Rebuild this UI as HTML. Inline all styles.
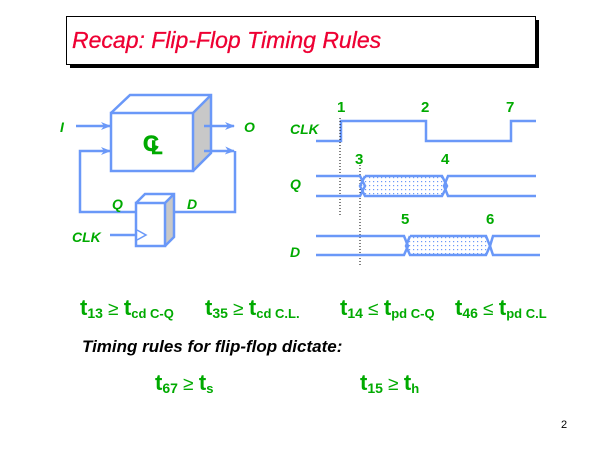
<!DOCTYPE html>
<html><head><style>
html,body{margin:0;padding:0;background:#fff;}
svg{display:block;}
.g{fill:#00aa00;font-family:"Liberation Sans",sans-serif;font-weight:bold;}
.b{stroke:#6a98f8;stroke-width:2.5;fill:none;}
</style></head><body>
<svg width="600" height="450" viewBox="0 0 600 450" xmlns="http://www.w3.org/2000/svg">
<defs>
<pattern id="dots" width="4" height="4" patternUnits="userSpaceOnUse">
<rect x="1" y="1" width="1.2" height="1.2" fill="#6a98f8"/>
</pattern>
<marker id="ar" markerWidth="10" markerHeight="8" refX="9" refY="4" orient="auto" markerUnits="userSpaceOnUse">
<path d="M0,0 L10,4 L0,8 L3,4 Z" fill="#6a98f8"/>
</marker>
</defs>
<!-- title -->
<rect x="70" y="20" width="469" height="48" fill="#000"/>
<rect x="66.5" y="16.5" width="469" height="48" fill="#fff" stroke="#000" stroke-width="1"/>
<text x="72" y="48" font-family="Liberation Sans,sans-serif" font-style="italic" font-size="23" fill="#ee0033" stroke="#ee0033" stroke-width="0.3">Recap: Flip-Flop Timing Rules</text>

<!-- CL box -->
<polygon points="193,113 211,95 211,153 193,171" fill="#c8c8c8"/>
<polyline class="b" points="111,113 130,95 211,95 211,153 193,171"/>
<line class="b" x1="193" y1="113" x2="211" y2="95"/>
<rect class="b" x="111" y="113" width="82" height="58"/>
<text class="g" x="143" y="151" font-size="22" font-weight="normal" stroke="#00aa00" stroke-width="0.6">C</text>
<text class="g" x="151" y="154" font-size="19" font-weight="normal" stroke="#00aa00" stroke-width="0.6">L</text>
<text x="60" y="132" class="g" font-size="14" font-style="italic" font-weight="normal">I</text>
<text x="244" y="132" class="g" font-size="14" font-style="italic" font-weight="normal">O</text>
<line class="b" x1="76" y1="126" x2="110" y2="126" marker-end="url(#ar)"/>
<line class="b" x1="204" y1="126" x2="234" y2="126" marker-end="url(#ar)"/>
<polyline class="b" points="136,212 80,212 80,151 110,151" marker-end="url(#ar)"/>
<polyline class="b" points="204,151 234,151"/>
<polyline class="b" points="235,151 235,212 173,212"/>
<polyline points="218,150 234,151" stroke="none" marker-end="url(#ar)"/>
<!-- FF box -->
<polygon points="165,203 174,194 174,237 165,246" fill="#c8c8c8"/>
<polyline class="b" points="136,203 145,194 174,194 174,237 165,246"/>
<line class="b" x1="165" y1="203" x2="174" y2="194"/>
<rect class="b" x="136" y="203" width="29" height="43"/>
<polyline stroke="#6a98f8" stroke-width="1.5" fill="none" points="137,230 146,235 137,240"/>
<line class="b" x1="110" y1="235" x2="136" y2="235"/>
<text x="112" y="209" class="g" font-size="14" font-style="italic">Q</text>
<text x="187" y="209" class="g" font-size="14" font-style="italic">D</text>
<text x="72" y="242" class="g" font-size="14" font-style="italic">CLK</text>

<!-- timing -->
<text x="290" y="134" class="g" font-size="14" font-style="italic">CLK</text>
<text x="290" y="189" class="g" font-size="14" font-style="italic">Q</text>
<text x="290" y="257" class="g" font-size="14" font-style="italic">D</text>
<polyline class="b" points="316,141 341,141 341,121 426,121 426,141 511,141 511,121 536,121"/>
<line x1="340" y1="118" x2="340" y2="215" stroke="#000" stroke-width="1" stroke-dasharray="1,2"/>
<line x1="360" y1="165" x2="360" y2="265" stroke="#000" stroke-width="1" stroke-dasharray="1,2"/>
<!-- Q -->
<polygon points="363,176 444,176 447,186 444,196 363,196 360,186" fill="url(#dots)"/>
<polyline class="b" points="316,176 360,176 365,186 360,196 316,196"/>
<polyline class="b" points="365,176 442,176 447,186 442,196 365,196 360,186 365,176"/>
<polyline class="b" points="536,176 448,176 444,186 448,196 536,196"/>
<!-- D -->
<polygon points="410,236 487,236 490,246 487,255 410,255 407,246" fill="url(#dots)"/>
<polyline class="b" points="316,236 404,236 408,246 404,255 316,255"/>
<polyline class="b" points="410,236 486,236 490,246 486,255 410,255 406,246 410,236"/>
<polyline class="b" points="540,236 493,236 490,246 493,255 540,255"/>
<g class="g" font-size="15">
<text x="337" y="112">1</text><text x="421" y="112">2</text><text x="506" y="112">7</text>
<text x="355" y="164">3</text><text x="441" y="164">4</text>
<text x="401" y="224">5</text><text x="486" y="224">6</text>
</g>

<!-- equations -->
<g class="g">
<text x="80" y="315" font-size="22">t<tspan font-size="14" dy="3">13</tspan><tspan font-size="19" dy="-3" font-weight="normal"> ≥ </tspan>t<tspan font-size="13" dy="3">cd C-Q</tspan></text>
<text x="205" y="315" font-size="22">t<tspan font-size="14" dy="3">35</tspan><tspan font-size="19" dy="-3" font-weight="normal"> ≥ </tspan>t<tspan font-size="13" dy="3">cd C.L.</tspan></text>
<text x="340" y="315" font-size="22">t<tspan font-size="14" dy="3">14</tspan><tspan font-size="19" dy="-3" font-weight="normal"> ≤ </tspan>t<tspan font-size="13" dy="3">pd C-Q</tspan></text>
<text x="455" y="315" font-size="22">t<tspan font-size="14" dy="3">46</tspan><tspan font-size="19" dy="-3" font-weight="normal"> ≤ </tspan>t<tspan font-size="13" dy="3">pd C.L</tspan></text>
<text x="155" y="390" font-size="22">t<tspan font-size="14" dy="3">67</tspan><tspan font-size="19" dy="-3" font-weight="normal"> ≥ </tspan>t<tspan font-size="13" dy="3">s</tspan></text>
<text x="360" y="390" font-size="22">t<tspan font-size="14" dy="3">15</tspan><tspan font-size="19" dy="-3" font-weight="normal"> ≥ </tspan>t<tspan font-size="13" dy="3">h</tspan></text>
</g>
<text x="82" y="352" font-family="Liberation Sans,sans-serif" font-weight="bold" font-style="italic" font-size="17" fill="#000">Timing rules for flip-flop dictate:</text>
<text x="561" y="428" font-family="Liberation Sans,sans-serif" font-size="11" fill="#000">2</text>
</svg>
</body></html>
